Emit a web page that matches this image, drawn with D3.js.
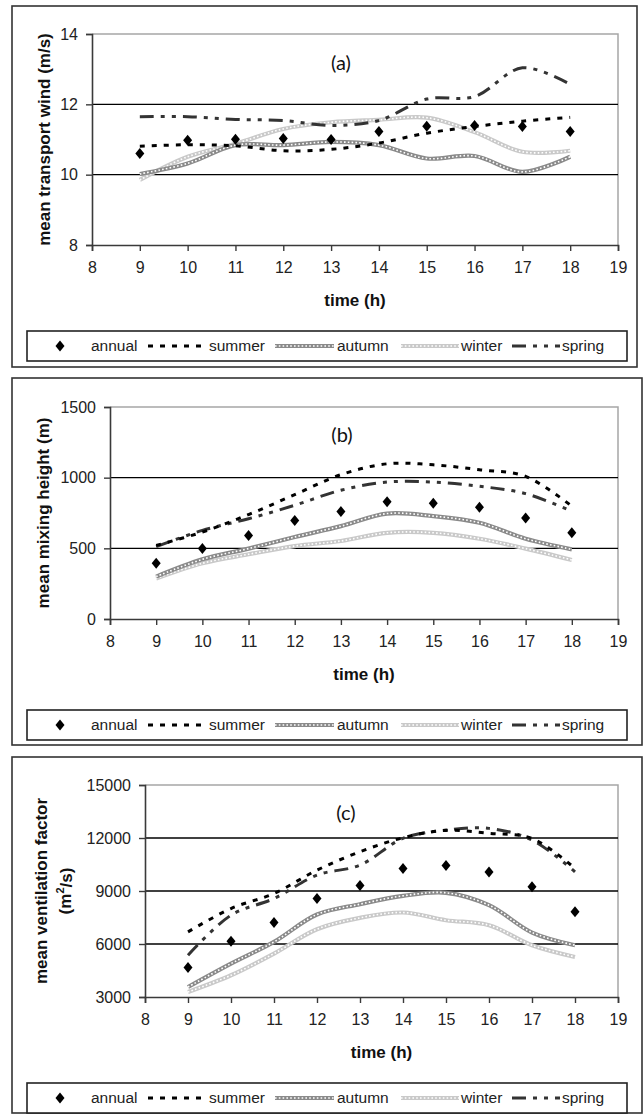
<!DOCTYPE html>
<html>
<head>
<meta charset="utf-8">
<script src="https://cdn.jsdelivr.net/npm/d3@7"></script>
<style>
  body { margin: 0; background: #fff; }
  svg { display: block; font-family: "Liberation Sans", Arial, sans-serif; }
</style>
</head>
<body>
<svg id="chart" width="644" height="1115"></svg>
<script>
// hours of the day on the x axis
const hours = [9, 10, 11, 12, 13, 14, 15, 16, 17, 18];
const xTicks = [8, 9, 10, 11, 12, 13, 14, 15, 16, 17, 18, 19];

// (a) mean transport wind (m/s)
const windAnnual = [10.6, 10.98, 11.01, 11.03, 11.0, 11.23, 11.38, 11.4, 11.37, 11.23];
const windSummer = [10.81, 10.85, 10.82, 10.68, 10.72, 10.9, 11.18, 11.37, 11.52, 11.63];
const windAutumn = [10.02, 10.32, 10.84, 10.84, 10.93, 10.84, 10.46, 10.53, 10.08, 10.51];
const windWinter = [9.85, 10.51, 10.88, 11.3, 11.49, 11.56, 11.62, 11.21, 10.65, 10.68];
const windSpring = [11.65, 11.65, 11.57, 11.54, 11.4, 11.54, 12.15, 12.22, 13.04, 12.57];
const windTicks = [8, 10, 12, 14];

// (b) mean mixing height (m)
const mixAnnual = [394, 498, 591, 697, 760, 829, 819, 791, 714, 610];
const mixSummer = [521, 615, 739, 880, 1021, 1098, 1091, 1056, 1009, 798];
const mixAutumn = [300, 422, 498, 580, 657, 746, 728, 681, 568, 493];
const mixWinter = [286, 394, 458, 516, 552, 610, 610, 568, 498, 418];
const mixSpring = [512, 627, 709, 805, 911, 969, 969, 939, 887, 763];
const mixTicks = [0, 500, 1000, 1500];

// (c) mean ventilation factor (m2/s)
const ventAnnual = [4663, 6156, 7215, 8576, 9313, 10277, 10447, 10069, 9237, 7820];
const ventSummer = [6686, 8009, 8859, 10182, 11222, 12015, 12431, 12261, 11978, 10277];
const ventAutumn = [3567, 4890, 6119, 7668, 8254, 8727, 8897, 8198, 6648, 5930];
const ventWinter = [3284, 4229, 5457, 6837, 7479, 7782, 7347, 7064, 5930, 5268];
const ventSpring = [5363, 7631, 8576, 9899, 10466, 11978, 12450, 12545, 11883, 10088];
const ventTicks = [3000, 6000, 9000, 12000, 15000];

const seriesNames = ["annual", "summer", "autumn", "winter", "spring"];

const panels = [
  { tag: "(a)", title: ["mean transport wind (m/s)"], ticks: windTicks,
    data: [windAnnual, windSummer, windAutumn, windWinter, windSpring],
    box: [12, 6, 625, 361], plot: [92, 618, 34, 245], legendY: 331, tagPos: [341, 63], titleX: [44] },
  { tag: "(b)", title: ["mean mixing height (m)"], ticks: mixTicks,
    data: [mixAnnual, mixSummer, mixAutumn, mixWinter, mixSpring],
    box: [12, 378, 630, 367], plot: [110, 618, 407, 619], legendY: 710, tagPos: [342, 435], titleX: [43] },
  { tag: "(c)", title: ["mean ventilation factor", "vent2"], ticks: ventTicks,
    data: [ventAnnual, ventSummer, ventAutumn, ventWinter, ventSpring],
    box: [12, 757, 630, 356], plot: [145, 618, 785, 997], legendY: 1083, tagPos: [346, 813], titleX: [41, 65] }
];

const svg = d3.select("#chart");

// a chain-of-circles line (autumn / winter)
function chainLine(g, d, color) {
  g.append("path").attr("d", d).attr("fill", "none")
    .attr("stroke", color).attr("stroke-width", 4.2);
  g.append("path").attr("d", d).attr("fill", "none")
    .attr("stroke", "#fff").attr("stroke-width", 1.6)
    .attr("stroke-dasharray", "1.6,2.2");
}

function styledLine(g, d, i) {
  if (i === 1) {
    g.append("path").attr("d", d).attr("fill", "none")
      .attr("stroke", "#000").attr("stroke-width", 3)
      .attr("stroke-dasharray", "5,7");
  } else if (i === 2) {
    chainLine(g, d, "#8a8a8a");
  } else if (i === 3) {
    chainLine(g, d, "#c9c9c9");
  } else if (i === 4) {
    g.append("path").attr("d", d).attr("fill", "none")
      .attr("stroke", "#333").attr("stroke-width", 3)
      .attr("stroke-dasharray", "14,7,4,7,4,7");
  }
}

function diamond(g, cx, cy) {
  g.append("path")
    .attr("d", `M${cx},${cy - 5.5}L${cx + 4.5},${cy}L${cx},${cy + 5.5}L${cx - 4.5},${cy}Z`)
    .attr("fill", "#000");
}

panels.forEach(p => {
  const [bx, by, bw, bh] = p.box;
  const [px0, px1, py0, py1] = p.plot;

  svg.append("rect").attr("x", bx).attr("y", by).attr("width", bw).attr("height", bh)
    .attr("fill", "#fff").attr("stroke", "#333").attr("stroke-width", 1.6);

  const x = d3.scaleLinear().domain([8, 19]).range([px0, px1]);
  const y = d3.scaleLinear().domain(d3.extent(p.ticks)).range([py1, py0]);

  // plot area border (grey) and gridlines (black)
  svg.append("path")
    .attr("d", `M${px0},${py0}H${px1}V${py1}`)
    .attr("fill", "none").attr("stroke", "#a6a6a6").attr("stroke-width", 1.5);
  svg.selectAll(null).data(p.ticks.slice(1, -1)).enter().append("line")
    .attr("x1", px0).attr("x2", px1)
    .attr("y1", d => y(d)).attr("y2", d => y(d))
    .attr("stroke", "#000").attr("stroke-width", 1.3);

  // axes
  const ya = svg.append("g").attr("transform", `translate(${px0},0)`)
    .call(d3.axisLeft(y).tickValues(p.ticks).tickSize(6).tickPadding(8).tickFormat(d3.format("d")));
  const xa = svg.append("g").attr("transform", `translate(0,${py1})`)
    .call(d3.axisBottom(x).tickValues(xTicks).tickSize(6).tickPadding(11).tickFormat(d3.format("d")));
  [ya, xa].forEach(a => {
    a.select(".domain").attr("stroke", "#3a3a3a").attr("stroke-width", 1.6);
    a.selectAll(".tick line").attr("stroke", "#3a3a3a").attr("stroke-width", 1.4);
    a.selectAll(".tick text").attr("font-size", 16).attr("fill", "#222")
      .attr("font-family", "'Liberation Sans', Arial, sans-serif");
  });

  // axis titles
  const cy = (py0 + py1) / 2;
  if (p.title.length === 1) {
    svg.append("text").attr("transform", `translate(${p.titleX[0]},${cy}) rotate(-90)`)
      .attr("text-anchor", "middle").attr("dy", "0.35em")
      .attr("font-size", 17).attr("font-weight", "bold").attr("fill", "#111")
      .text(p.title[0]);
  } else {
    svg.append("text").attr("transform", `translate(${p.titleX[0]},${cy}) rotate(-90)`)
      .attr("text-anchor", "middle").attr("dy", "0.35em")
      .attr("font-size", 17).attr("font-weight", "bold").attr("fill", "#111")
      .text(p.title[0]);
    const t2 = svg.append("text").attr("transform", `translate(${p.titleX[1]},${cy}) rotate(-90)`)
      .attr("text-anchor", "middle").attr("dy", "0.35em")
      .attr("font-size", 17).attr("font-weight", "bold").attr("fill", "#111");
    t2.append("tspan").text("(m");
    t2.append("tspan").attr("font-size", 11).attr("dy", "-0.6em").text("2");
    t2.append("tspan").attr("dy", "0.45em").text("/s)");
  }
  svg.append("text").attr("x", (px0 + px1) / 2).attr("y", py1 + 55)
    .attr("text-anchor", "middle").attr("dy", "0.35em")
    .attr("font-size", 17).attr("font-weight", "bold").attr("fill", "#111")
    .text("time (h)");

  // panel tag
  svg.append("text").attr("x", p.tagPos[0]).attr("y", p.tagPos[1])
    .attr("text-anchor", "middle").attr("dy", "0.35em")
    .attr("font-family", "Lato, 'Open Sans', sans-serif").attr("font-size", 20).attr("fill", "#111")
    .text(p.tag);

  // series lines
  const line = d3.line().x((d, i) => x(hours[i])).y(d => y(d)).curve(d3.curveCatmullRom.alpha(0.5));
  const g = svg.append("g");
  [3, 2, 4, 1].forEach(i => styledLine(g, line(p.data[i]), i));
  p.data[0].forEach((v, i) => diamond(g, x(hours[i]), y(v)));

  // legend
  const ly = p.legendY, lh = 30, lc = ly + lh / 2;
  svg.append("rect").attr("x", 27).attr("y", ly).attr("width", 600).attr("height", lh)
    .attr("fill", "#fff").attr("stroke", "#222").attr("stroke-width", 1.6);
  const lg = svg.append("g");
  diamond(lg, 60, lc);
  const items = [
    { lx: null, tx: 91 },
    { lx: [148, 206], tx: 209 },
    { lx: [275, 334], tx: 337 },
    { lx: [401, 459], tx: 461 },
    { lx: [512, 560], tx: 562 }
  ];
  items.forEach((it, i) => {
    if (it.lx) styledLine(lg, `M${it.lx[0]},${lc}H${it.lx[1]}`, i);
    lg.append("text").attr("x", it.tx).attr("y", lc).attr("dy", "0.35em")
      .attr("font-size", 15.5).attr("fill", "#222").text(seriesNames[i]);
  });
});
</script>
</body>
</html>
